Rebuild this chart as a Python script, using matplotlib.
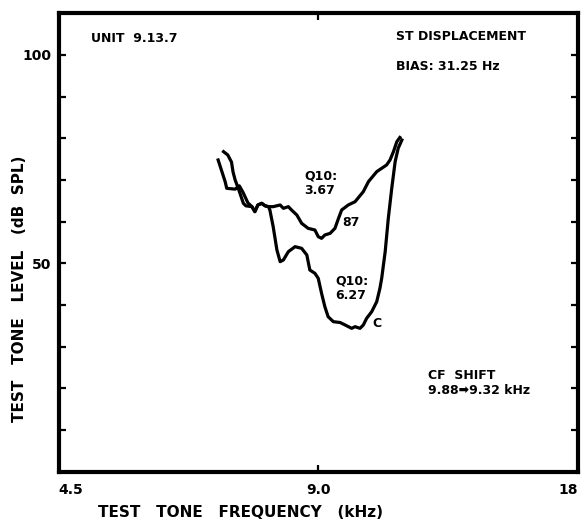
import matplotlib
matplotlib.use("Agg")
import matplotlib.pyplot as plt
from matplotlib.ticker import FixedLocator, NullLocator

plt.rcParams['font.family'] = ['DejaVu Sans']

# tuning curve after ST displacement (unit 87)
freq_87 = [6.89, 6.96, 7.02, 7.05, 7.21, 7.29, 7.36, 7.46, 7.54, 7.60, 7.66,
           7.74, 7.81, 7.88, 7.98, 8.13, 8.20, 8.31, 8.38, 8.50, 8.61, 8.76,
           8.92, 9.00, 9.08, 9.16, 9.29, 9.41, 9.50, 9.58, 9.75, 9.93, 10.15,
           10.29, 10.52, 10.80, 10.90, 11.00, 11.10, 11.19]
level_87 = [74.8, 72.0, 69.6, 68.0, 67.8, 68.6, 67.1, 64.5, 63.6, 62.4, 64.0,
            64.4, 63.8, 63.6, 63.6, 64.0, 63.2, 63.6, 62.8, 61.6, 59.6, 58.4,
            58.0, 56.4, 56.0, 56.8, 57.2, 58.4, 60.8, 62.8, 64.0, 64.8, 67.2,
            69.6, 72.0, 73.6, 74.8, 76.8, 79.2, 80.2]

# control tuning curve (C)
freq_c = [6.99, 7.07, 7.14, 7.17, 7.21, 7.27, 7.32, 7.37, 7.42, 7.54, 7.60,
          7.66, 7.74, 7.81, 7.88, 7.91, 7.98, 8.06, 8.13, 8.20, 8.31, 8.46,
          8.61, 8.73, 8.80, 8.92, 9.00, 9.08, 9.16, 9.24, 9.37, 9.54, 9.67,
          9.84, 9.93, 10.06, 10.15, 10.24, 10.38, 10.52, 10.61, 10.66, 10.76,
          10.85, 10.95, 11.05, 11.14, 11.25]
level_c = [76.8, 76.0, 74.3, 71.9, 70.0, 68.0, 66.2, 64.4, 63.8, 63.6, 62.4,
           64.0, 64.4, 63.8, 63.6, 62.8, 58.8, 53.2, 50.4, 50.8, 52.8, 54.0,
           53.6, 52.0, 48.4, 47.6, 46.4, 42.8, 39.6, 37.2, 36.0, 35.8, 35.2,
           34.4, 34.8, 34.4, 35.2, 36.8, 38.4, 40.8, 44.0, 46.4, 52.8,
           60.8, 68.0, 74.4, 77.6, 79.6]

x_ticks = [4.5, 9.0, 18.0]
x_tick_labels = ['4.5', '9.0', '18']
y_ticks = [10, 20, 30, 40, 50, 60, 70, 80, 90, 100]
y_tick_labels = ['', '', '', '', '50', '', '', '', '', '100']

fig = plt.figure(figsize=(5.82, 5.22), dpi=100)
ax = fig.add_axes([58.5 / 582, 1 - 471.7 / 522, 519.5 / 582, 458.4 / 522])

ax.plot(freq_87, level_87, color='black', lw=2.3, solid_joinstyle='round')
ax.plot(freq_c, level_c, color='black', lw=2.3, solid_joinstyle='round')

ax.set_xscale('log')
ax.set_xlim(4.5, 18)
ax.set_ylim(0, 110)
ax.xaxis.set_major_locator(FixedLocator(x_ticks))
ax.xaxis.set_minor_locator(NullLocator())
ax.set_xticklabels(x_tick_labels)
ax.set_yticks(y_ticks)
ax.set_yticklabels(y_tick_labels)

ax.tick_params(direction='in', length=5, width=1.6, top=True, right=True,
               labelsize=10, pad=5)
ax.tick_params(axis='x', pad=8)
for lab in ax.get_xticklabels() + ax.get_yticklabels():
    lab.set_fontweight('bold')
xl = ax.get_xticklabels()
xl[0].set_horizontalalignment('left')
xl[-1].set_horizontalalignment('right')
for sp in ax.spines.values():
    sp.set_linewidth(3)

ax.text(0.35, -0.09, 'TEST   TONE   FREQUENCY   (kHz)', transform=ax.transAxes,
        ha='center', va='center', fontsize=11, fontweight='bold')
ax.text(-0.075, 0.40, 'TEST   TONE   LEVEL   (dB  SPL)', transform=ax.transAxes,
        ha='center', va='center', rotation=90, fontsize=11, fontweight='bold')

kw = dict(transform=ax.transAxes, fontsize=9, fontweight='bold', va='center')
ax.text(0.062, 0.945, 'UNIT  9.13.7', ha='left', **kw)
ax.text(0.650, 0.949, 'ST DISPLACEMENT', ha='left', **kw)
ax.text(0.650, 0.884, 'BIAS: 31.25 Hz', ha='left', **kw)
ax.text(0.473, 0.629, 'Q10:\n3.67', ha='left', linespacing=1.15, **kw)
ax.text(0.547, 0.543, '87', ha='left', **kw)
ax.text(0.533, 0.400, 'Q10:\n6.27', ha='left', linespacing=1.15, **kw)
ax.text(0.604, 0.324, 'C', ha='left', **kw)
ax.text(0.711, 0.210, 'CF  SHIFT', ha='left', **kw)
ax.text(0.711, 0.178, '9.88\u27a19.32 kHz', ha='left', **kw)

fig.savefig('out.png', dpi=100)
